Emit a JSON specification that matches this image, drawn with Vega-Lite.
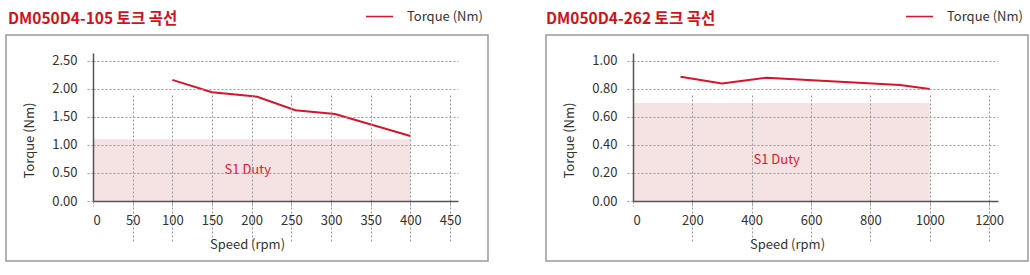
{
  "$schema": "https://vega.github.io/schema/vega-lite/v6.json",
  "padding": {"left": 5, "top": 1, "right": 0, "bottom": 0},
  "background": "white",
  "config": {
    "font": "Noto Sans CJK KR",
    "view": {"stroke": "#9a9a9a", "strokeWidth": 1.5},
    "axis": {
      "labelFont": "Noto Sans CJK KR",
      "titleFont": "Noto Sans CJK KR",
      "labelFontSize": 13,
      "titleFontSize": 13,
      "labelColor": "#333333",
      "titleColor": "#333333",
      "titleFontWeight": "normal",
      "domainColor": "#555555",
      "domainWidth": 1.5,
      "gridColor": "#9a9a9a",
      "gridDash": [2, 2],
      "gridWidth": 1,
      "tickColor": "#9a9a9a",
      "tickDash": [2, 2],
      "tickWidth": 1
    },
    "legend": {
      "labelFont": "Noto Sans CJK KR",
      "labelFontSize": 13,
      "labelColor": "#333333"
    },
    "title": {"font": "Noto Sans CJK KR"}
  },
  "resolve": {"scale": {"color": "independent"}, "legend": {"color": "independent"}},
  "spacing": 56,
  "hconcat": [
    {
      "width": 482,
      "height": 226,
      "title": {"text": "DM050D4-105 토크 곡선", "anchor": "start", "fontSize": 15.5, "fontWeight": "bold", "color": "#d0121b", "dx": 2, "offset": -25},
      "resolve": {"axis": {"x": "independent", "y": "independent"}},
      "layer": [
        {
          "data": {"values": [{"x0": 0, "x1": 400, "y0": 0, "y1": 1.1}]},
          "mark": {"type": "rect", "color": "#f5e2e3"},
          "encoding": {
            "x": {"field": "x0", "type": "quantitative", "scale": {"domain": [0, 460], "range": [87, 452], "nice": false, "zero": false},
              "axis": {"orient": "bottom", "values": [50, 100, 150, 200, 250, 300, 350, 400, 450], "grid": true, "domain": false, "labels": false, "ticks": false, "title": null, "zindex": 1}},
            "x2": {"field": "x1"},
            "y": {"field": "y0", "type": "quantitative", "scale": {"domain": [0, 2.64], "range": [166, 18], "nice": false, "zero": false},
              "axis": {"orient": "left", "values": [0.5, 1, 1.5, 2, 2.5], "grid": true, "domain": false, "labels": false, "ticks": false, "title": null, "zindex": 1}},
            "y2": {"field": "y1"}
          }
        },
        {
          "data": {"values": [{"x": 195, "y": 0.55, "label": "S1 Duty"}]},
          "mark": {"type": "text", "color": "#e8132d", "fontSize": 13, "font": "Noto Sans CJK KR"},
          "encoding": {
            "x": {"field": "x", "type": "quantitative", "axis": null},
            "y": {"field": "y", "type": "quantitative", "axis": null},
            "text": {"field": "label"}
          }
        },
        {
          "data": {"values": [
            {"speed": 100, "torque": 2.16, "series": "Torque (Nm)"},
            {"speed": 150, "torque": 1.94, "series": "Torque (Nm)"},
            {"speed": 207, "torque": 1.86, "series": "Torque (Nm)"},
            {"speed": 255, "torque": 1.62, "series": "Torque (Nm)"},
            {"speed": 305, "torque": 1.55, "series": "Torque (Nm)"},
            {"speed": 400, "torque": 1.16, "series": "Torque (Nm)"}
          ]},
          "mark": {"type": "line", "strokeWidth": 2},
          "encoding": {
            "x": {"field": "speed", "type": "quantitative",
              "axis": {"orient": "bottom", "values": [0, 50, 100, 150, 200, 250, 300, 350, 400, 450], "format": "d", "title": "Speed (rpm)", "offset": -60, "tickSize": 5, "labelPadding": 8, "titleX": 241, "titlePadding": 11, "grid": false, "zindex": 1}},
            "y": {"field": "torque", "type": "quantitative",
              "axis": {"orient": "left", "values": [0, 0.5, 1, 1.5, 2, 2.5], "format": ".2f", "title": "Torque (Nm)", "offset": -87, "tickSize": 6, "labelPadding": 10, "titleY": 105, "titlePadding": 15, "grid": false, "zindex": 1}},
            "color": {"field": "series", "type": "nominal", "scale": {"range": ["#d7142a"]},
              "legend": {"title": null, "orient": "none", "legendX": 359, "legendY": -33, "symbolType": "stroke", "symbolSize": 729, "symbolStrokeWidth": 1.5, "labelOffset": 13}}
          }
        }
      ]
    },
    {
      "width": 482,
      "height": 226,
      "title": {"text": "DM050D4-262 토크 곡선", "anchor": "start", "fontSize": 15.5, "fontWeight": "bold", "color": "#d0121b", "dx": 0, "offset": -25},
      "resolve": {"axis": {"x": "independent", "y": "independent"}},
      "layer": [
        {
          "data": {"values": [{"x0": 0, "x1": 1000, "y0": 0, "y1": 0.7}]},
          "mark": {"type": "rect", "color": "#f5e2e3"},
          "encoding": {
            "x": {"field": "x0", "type": "quantitative", "scale": {"domain": [0, 1230], "range": [87, 452], "nice": false, "zero": false},
              "axis": {"orient": "bottom", "values": [200, 400, 600, 800, 1000, 1200], "grid": true, "domain": false, "labels": false, "ticks": false, "title": null, "zindex": 1}},
            "x2": {"field": "x1"},
            "y": {"field": "y0", "type": "quantitative", "scale": {"domain": [0, 1.057], "range": [166, 18], "nice": false, "zero": false},
              "axis": {"orient": "left", "values": [0.2, 0.4, 0.6, 0.8, 1.0], "grid": true, "domain": false, "labels": false, "ticks": false, "title": null, "zindex": 1}},
            "y2": {"field": "y1"}
          }
        },
        {
          "data": {"values": [{"x": 484, "y": 0.29, "label": "S1 Duty"}]},
          "mark": {"type": "text", "color": "#e8132d", "fontSize": 13, "font": "Noto Sans CJK KR"},
          "encoding": {
            "x": {"field": "x", "type": "quantitative", "axis": null},
            "y": {"field": "y", "type": "quantitative", "axis": null},
            "text": {"field": "label"}
          }
        },
        {
          "data": {"values": [
            {"speed": 160, "torque": 0.888, "series": "Torque (Nm)"},
            {"speed": 300, "torque": 0.84, "series": "Torque (Nm)"},
            {"speed": 450, "torque": 0.88, "series": "Torque (Nm)"},
            {"speed": 900, "torque": 0.829, "series": "Torque (Nm)"},
            {"speed": 1000, "torque": 0.80, "series": "Torque (Nm)"}
          ]},
          "mark": {"type": "line", "strokeWidth": 2},
          "encoding": {
            "x": {"field": "speed", "type": "quantitative",
              "axis": {"orient": "bottom", "values": [0, 200, 400, 600, 800, 1000, 1200], "format": "d", "title": "Speed (rpm)", "offset": -60, "tickSize": 5, "labelPadding": 8, "titleX": 241, "titlePadding": 11, "grid": false, "zindex": 1}},
            "y": {"field": "torque", "type": "quantitative",
              "axis": {"orient": "left", "values": [0, 0.2, 0.4, 0.6, 0.8, 1.0], "format": ".2f", "title": "Torque (Nm)", "offset": -87, "tickSize": 6, "labelPadding": 10, "titleY": 105, "titlePadding": 15, "grid": false, "zindex": 1}},
            "color": {"field": "series", "type": "nominal", "scale": {"range": ["#d7142a"]},
              "legend": {"title": null, "orient": "none", "legendX": 359, "legendY": -33, "symbolType": "stroke", "symbolSize": 729, "symbolStrokeWidth": 1.5, "labelOffset": 13}}
          }
        }
      ]
    }
  ]
}
